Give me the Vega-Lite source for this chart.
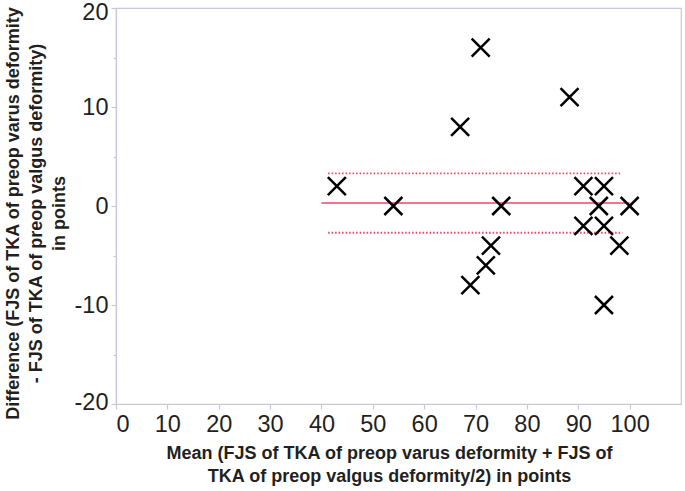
{
  "$schema": "https://vega.github.io/schema/vega-lite/v6.json",
  "width": 565,
  "height": 396,
  "autosize": {"type": "none"},
  "padding": {"left": 116, "top": 8, "right": 4, "bottom": 87},
  "config": {
    "font": "Liberation Sans",
    "view": {"stroke": "#c8c8d8", "strokeWidth": 1.2},
    "axis": {
      "domainColor": "#c8c8d8",
      "tickColor": "#c8c8d8",
      "domainWidth": 1.2,
      "tickWidth": 1.2,
      "tickSize": 5,
      "grid": false,
      "labelFont": "Liberation Sans",
      "labelFontSize": 23.5,
      "labelColor": "#231f20",
      "titleFont": "Liberation Sans",
      "titleFontSize": 18,
      "titleFontWeight": "bold",
      "titleColor": "#231f20",
      "titleLineHeight": 23
    }
  },
  "datasets": {
    "points": [
      {"mean": 43, "diff": 2},
      {"mean": 54, "diff": 0},
      {"mean": 67, "diff": 8},
      {"mean": 71, "diff": 16},
      {"mean": 75, "diff": 0},
      {"mean": 73, "diff": -4},
      {"mean": 72, "diff": -6},
      {"mean": 69, "diff": -8},
      {"mean": 88.3, "diff": 11},
      {"mean": 91, "diff": 2},
      {"mean": 95, "diff": 2},
      {"mean": 94, "diff": 0},
      {"mean": 100, "diff": 0},
      {"mean": 91, "diff": -2},
      {"mean": 95, "diff": -2},
      {"mean": 98, "diff": -4},
      {"mean": 95, "diff": -10}
    ],
    "lines": [
      {"kind": "mean", "x1": 40, "x2": 100, "y": 0.3},
      {"kind": "upper", "x1": 41.3, "x2": 98.2, "y": 3.3},
      {"kind": "lower", "x1": 41.3, "x2": 98.6, "y": -2.7}
    ]
  },
  "layer": [
    {
      "data": {"name": "lines"},
      "transform": [{"filter": "datum.kind == 'mean'"}],
      "mark": {"type": "rule", "color": "#ee4466", "strokeWidth": 1.5},
      "encoding": {
        "x": {"field": "x1", "type": "quantitative"},
        "x2": {"field": "x2"},
        "y": {"field": "y", "type": "quantitative"}
      }
    },
    {
      "data": {"name": "lines"},
      "transform": [{"filter": "datum.kind != 'mean'"}],
      "mark": {"type": "rule", "color": "#ee4466", "strokeWidth": 1.8, "strokeDash": [1.5, 2]},
      "encoding": {
        "x": {"field": "x1", "type": "quantitative"},
        "x2": {"field": "x2"},
        "y": {"field": "y", "type": "quantitative"}
      }
    },
    {
      "data": {"name": "points"},
      "mark": {
        "type": "point",
        "shape": "M-1,-1L1,1M1,-1L-1,1",
        "size": 324,
        "filled": false,
        "stroke": "#000000",
        "strokeWidth": 2.5,
        "opacity": 1
      },
      "encoding": {
        "x": {
          "field": "mean",
          "type": "quantitative",
          "scale": {"domain": [0, 110], "nice": false, "zero": false},
          "axis": {
            "values": [0, 10, 20, 30, 40, 50, 60, 70, 80, 90, 100],
            "labelPadding": 3,
            "titlePadding": 9,
            "titleX": 273,
            "title": ["Mean (FJS of TKA of preop varus deformity + FJS of", "TKA of preop valgus deformity/2) in points"]
          }
        },
        "y": {
          "field": "diff",
          "type": "quantitative",
          "scale": {"domain": [-20, 20], "nice": false, "zero": false},
          "axis": {
            "values": [-20, -15, -10, -5, 0, 5, 10, 15, 20],
            "labelExpr": "datum.value % 10 == 0 ? replace(datum.label, '−', '-') : ''",
            "tickSize": {"condition": {"test": "datum.value % 10 != 0", "value": 3}, "value": 5},
            "labelOffset": {"condition": [{"test": "datum.value == 20", "value": 4.5}, {"test": "datum.value == -20", "value": -2}], "value": 0},
            "labelPadding": 3,
            "labelBound": false,
            "titlePadding": 6,
            "titleY": 205,
            "title": ["Difference (FJS of TKA of preop varus deformity", "- FJS of TKA of preop valgus deformity)", "in points"]
          }
        }
      }
    }
  ]
}
